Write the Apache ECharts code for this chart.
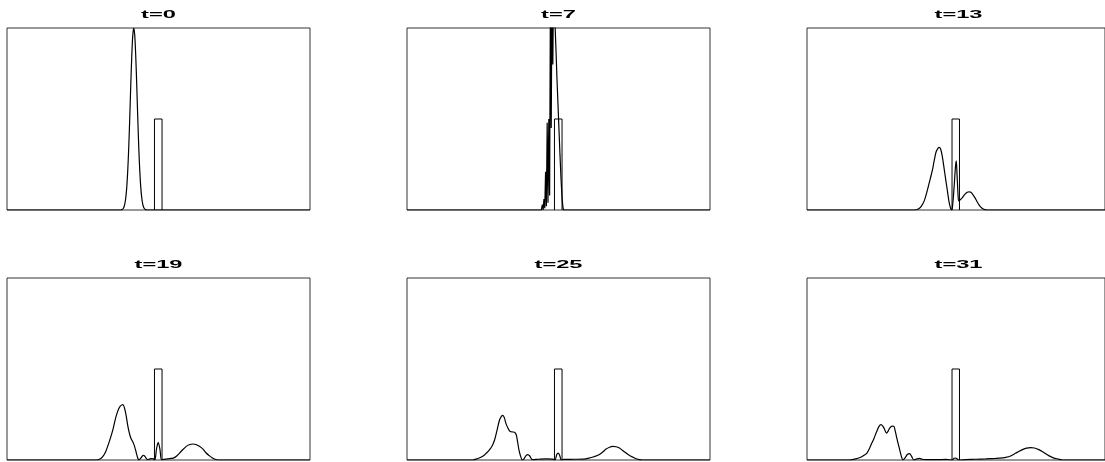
<!DOCTYPE html>
<html>
<head>
<meta charset="utf-8">
<script src="https://cdn.jsdelivr.net/npm/echarts@6/dist/echarts.min.js"></script>
<style>
html,body{margin:0;padding:0;background:#fff;}
#chart{width:1105px;height:462px;}
</style>
</head>
<body>
<div id="chart"></div>
<script>
// ---- data (x in arbitrary units 0..300, y normalised probability density 0..1) ----
const titles = ['t=0', 't=7', 't=13', 't=19', 't=25', 't=31'];

const barrierX = [146, 146, 153.5, 153.5];
const barrierY = [0, 0.5, 0.5, 0];

const psi_t0 = [[0,0],[112.5,0],[113.5,0.002],[114.5,0.005],[115.5,0.013],[116.5,0.03],[117.5,0.063],[118.5,0.12],[119.5,0.211],[120.5,0.339],[121.5,0.5],[122.5,0.678],[123.5,0.841],[124.5,0.958],[125.5,1.0],[126.5,0.958],[127.5,0.841],[128.5,0.678],[129.5,0.5],[130.5,0.339],[131.5,0.211],[132.5,0.12],[133.5,0.063],[134.5,0.03],[135.5,0.013],[136.5,0.005],[137.5,0.002],[138.5,0],[300,0]];

const psi_t7 = [[0,0],[133,0],[134,0.03],[134.8,0],[135.6,0.06],[136.4,0.01],[137.2,0.21],[138,0.02],[138.8,0.48],[139.6,0.04],[140.4,0.5],[141.2,0.08],[142,1.2],[142.8,0.45],[143.6,1.3],[144.4,0.8],[145.2,1.35],[146,1.2],[146.7,1.0],[147.5,0.88],[148.5,0.72],[149.5,0.58],[150.5,0.44],[151.5,0.3],[152.5,0.17],[153.5,0.07],[154.3,0.02],[155,0],[300,0]];

const psi_t13 = [[0,0],[108,0],[112,0.005],[115,0.02],[118,0.05],[121,0.105],[124,0.17],[126.3,0.22],[128,0.27],[130,0.32],[132,0.34],[133,0.344],[134.5,0.335],[136.2,0.295],[138.5,0.21],[141.2,0.11],[143,0.045],[144.5,0.01],[145.5,0],[146.5,0.02],[148,0.12],[149.5,0.24],[150.3,0.27],[151,0.2],[152,0.09],[152.7,0.05],[154,0.055],[156,0.065],[158,0.08],[160,0.092],[162,0.099],[163.5,0.1],[165,0.097],[167,0.085],[169,0.068],[171,0.048],[173,0.03],[175,0.016],[177,0.007],[179,0.002],[181,0],[300,0]];

const psi_t19 = [[0,0],[88,0],[92,0.005],[95,0.02],[98,0.05],[101.5,0.105],[105,0.17],[108,0.24],[111.4,0.29],[114.7,0.304],[117.4,0.26],[119.7,0.185],[121.5,0.14],[123,0.115],[124,0.106],[125.3,0.09],[126.3,0.075],[128,0.04],[129.5,0.01],[130.5,0],[132.5,0.01],[134,0.022],[135.2,0.026],[136.5,0.02],[138,0.008],[139.5,0.002],[141,0.005],[143,0.008],[145,0.006],[146.4,0],[148,0.06],[149.7,0.097],[151.4,0.06],[153,0],[155,0.003],[157.6,0.005],[161,0.008],[164.5,0.01],[168,0.022],[172.5,0.048],[177.5,0.075],[181,0.085],[184,0.088],[187,0.085],[190.5,0.075],[194,0.06],[197,0.04],[200,0.025],[203,0.012],[206,0.004],[209,0],[300,0]];

const psi_t25 = [[0,0],[65,0],[70,0.008],[75,0.02],[79,0.04],[81.8,0.057],[84.5,0.08],[86.7,0.11],[89,0.16],[91.6,0.22],[93.5,0.24],[94.9,0.245],[96.5,0.23],[98,0.2],[99.9,0.176],[101.5,0.16],[103,0.155],[104.8,0.154],[106.5,0.152],[108.1,0.14],[109.5,0.1],[110.8,0.057],[112.5,0.02],[114.2,0],[116,0.008],[118,0.025],[119.7,0.03],[121.5,0.022],[123,0.008],[124.5,0.002],[130,0.004],[138,0.006],[144,0.005],[146.5,0],[148.3,0.03],[149.7,0.038],[151.2,0.025],[152.8,0],[155,0.003],[165,0.004],[175,0.005],[180,0.01],[185,0.018],[190.5,0.03],[194,0.045],[197.1,0.06],[200.5,0.07],[203.7,0.075],[207,0.073],[210.3,0.066],[213.5,0.052],[216.9,0.038],[220,0.026],[223.5,0.016],[227,0.007],[230,0.002],[233,0],[300,0]];

const psi_t31 = [[0,0],[42,0],[48,0.005],[54,0.015],[58,0.028],[60.3,0.038],[63,0.065],[65.3,0.093],[67.5,0.12],[70.2,0.157],[72.5,0.185],[74.5,0.194],[76.3,0.186],[77.8,0.172],[80.1,0.148],[81.8,0.16],[83.4,0.176],[85.5,0.186],[87.4,0.185],[88.8,0.16],[90,0.13],[91.6,0.093],[93.3,0.057],[95,0.02],[96.6,0],[98.5,0.01],[101,0.03],[103.2,0.035],[105.3,0.02],[107.5,0],[110,0.005],[113.1,0.009],[116,0.004],[120,0.002],[130,0.002],[140,0.003],[146.5,0],[148,0.01],[149.3,0.011],[150.7,0.008],[152.5,0],[160,0.002],[170,0.004],[180,0.006],[190,0.009],[197.1,0.012],[200,0.014],[205,0.022],[210.3,0.038],[213.5,0.048],[216.9,0.057],[221,0.065],[225.2,0.068],[229,0.066],[233.4,0.057],[238,0.042],[243.3,0.024],[248,0.012],[253.2,0.005],[257,0],[300,0]];

const curves = [psi_t0, psi_t7, psi_t13, psi_t19, psi_t25, psi_t31];
const smoothing = [0.3, false, 0.3, 0.3, 0.3, 0.3];

// ---- layout ----
const colLeft = [7, 407, 807];
const rowTop = [28, 278];
const panelW = 303, panelH = 182;

const grids = [], xAxes = [], yAxes = [], series = [], graphics = [];
const barrier = barrierX.map((x, i) => [x, barrierY[i]]);

for (let i = 0; i < 6; i++) {
  const c = i % 3, r = Math.floor(i / 3);
  grids.push({
    left: colLeft[c], top: rowTop[r], width: panelW, height: panelH,
    show: true, borderColor: '#333', borderWidth: 1, backgroundColor: 'transparent'
  });
  xAxes.push({ type: 'value', gridIndex: i, min: 0, max: 300, show: false });
  yAxes.push({ type: 'value', gridIndex: i, min: 0, max: 1, show: false });
  series.push({
    type: 'line', xAxisIndex: i, yAxisIndex: i, data: curves[i],
    showSymbol: false, smooth: smoothing[i], clip: true,
    lineStyle: { color: '#000', width: 1.2 }, silent: true
  });
  series.push({
    type: 'line', xAxisIndex: i, yAxisIndex: i, data: barrier,
    showSymbol: false, clip: true,
    lineStyle: { color: '#000', width: 1 }, silent: true
  });
  graphics.push({
    type: 'text',
    x: colLeft[c] + panelW / 2,
    y: rowTop[r] - 13.5,
    scaleX: 2.15,
    style: {
      text: titles[i], fill: '#000',
      font: 'bold 11px "Liberation Sans", Arial, sans-serif',
      align: 'center', verticalAlign: 'middle'
    }
  });
}

const chart = echarts.init(document.getElementById('chart'), null, { renderer: 'canvas' });
chart.setOption({
  animation: false,
  backgroundColor: '#fff',
  grid: grids,
  xAxis: xAxes,
  yAxis: yAxes,
  series: series,
  graphic: graphics
});
</script>
</body>
</html>
